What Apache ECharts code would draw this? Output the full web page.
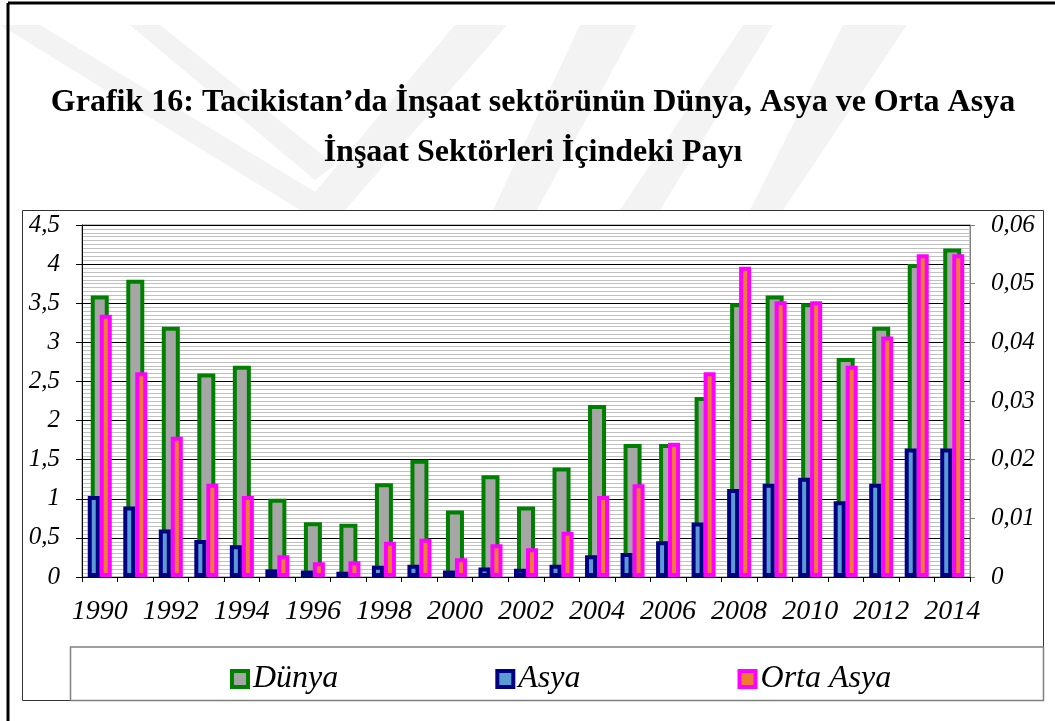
<!DOCTYPE html>
<html>
<head>
<meta charset="utf-8">
<script src="https://cdn.jsdelivr.net/npm/echarts@6/dist/echarts.min.js"></script>
<style>
  html, body { margin: 0; padding: 0; background: #fff; }
  #chart { width: 1055px; height: 721px; }
</style>
</head>
<body>
<div id="chart"></div>
<script>
// veriler
const years = ['1990', '1991', '1992', '1993', '1994', '1995', '1996', '1997', '1998', '1999',
  '2000', '2001', '2002', '2003', '2004', '2005', '2006', '2007', '2008', '2009',
  '2010', '2011', '2012', '2013', '2014']
// sol eksen (0 - 4,5)
const dunya = [3.6, 3.8, 3.2, 2.6, 2.7, 1.0, 0.7, 0.68, 1.2, 1.5, 0.85, 1.3, 0.9, 1.4, 2.2, 1.7, 1.7, 2.3, 3.5, 3.6, 3.5, 2.8, 3.2, 4.0, 4.2]
// sag eksen (0 - 0,06)
const asya = [0.0138, 0.0120, 0.0081, 0.0063, 0.0054, 0.0013, 0.0011, 0.0009, 0.0019, 0.0021, 0.0011, 0.0016, 0.0014, 0.0021, 0.0037, 0.0041, 0.0061, 0.0093, 0.0150, 0.0159, 0.0169, 0.0129, 0.0159, 0.0219, 0.0219]
const ortaAsya = [0.0447, 0.0349, 0.0239, 0.0159, 0.0138, 0.0037, 0.0025, 0.0027, 0.0060, 0.0065, 0.0032, 0.0056, 0.0049, 0.0077, 0.0138, 0.0158, 0.0229, 0.0349, 0.0529, 0.0470, 0.0470, 0.0360, 0.0410, 0.0550, 0.0550]

const leftAxis = { min: 0, max: 4.5, interval: 0.5 }
const rightAxis = { min: 0, max: 0.06, interval: 0.01 }
const seriesNames = ['Dünya', 'Asya', 'Orta Asya']
const titleText = 'Grafik 16: Tacikistan’da İnşaat sektörünün Dünya, Asya ve Orta Asya\nİnşaat Sektörleri İçindeki Payı'

const serif = "'Liberation Serif', 'Times New Roman', serif"

// arka plandaki soluk filigran seritleri
const watermark = [
  [[0, 25], [40, 25], [345, 210], [300, 210]],
  [[130, 25], [160, 25], [335, 165], [315, 180]],
  [[300, 210], [345, 210], [507, 25], [455, 25]],
  [[493, 210], [537, 210], [637, 25], [580, 25]],
  [[620, 210], [660, 210], [773, 25], [743, 25]],
  [[750, 210], [783, 210], [907, 25], [843, 25]]
]

function comma(v) {
  return String(+v.toFixed(3)).replace('.', ',')
}

function initEchart(el, option) {
  const myChart = echarts.init(el)
  myChart.setOption(option, true)
  return myChart
}

const getOption = function () {
  const graphics = watermark.map(function (pts) {
    return { type: 'polygon', shape: { points: pts }, style: { fill: '#f3f3f3' }, z: -20, silent: true }
  })
  graphics.push(
    // sayfa cercevesi
    { type: 'line', shape: { x1: 8, y1: 3, x2: 8, y2: 721 }, style: { stroke: '#000', lineWidth: 3 }, z: -10 },
    { type: 'line', shape: { x1: 8, y1: 3, x2: 1055, y2: 3 }, style: { stroke: '#000', lineWidth: 3 }, z: -10 },
    // grafik kutusu
    { type: 'rect', shape: { x: 22.5, y: 210.5, width: 1021, height: 490 }, style: { fill: '#fff', stroke: '#333', lineWidth: 1 }, z: -5 },
    // lejant kutusu
    { type: 'rect', shape: { x: 70.5, y: 647, width: 973, height: 53.5 }, style: { fill: 'none', stroke: '#7f7f7f', lineWidth: 1.5 }, z: -4 }
  )
  return {
    animation: false,
    backgroundColor: '#fff',
    title: {
      text: titleText,
      left: 528,
      top: 73,
      textAlign: 'center',
      textStyle: {
        fontFamily: serif,
        fontWeight: 'bold',
        fontSize: 32,
        lineHeight: 50,
        color: '#000'
      }
    },
    graphic: graphics,
    legend: {
      data: seriesNames,
      left: 230,
      top: 663,
      padding: 0,
      itemWidth: 16,
      itemHeight: 16,
      itemGap: 157,
      icon: 'rect',
      itemStyle: { borderWidth: 4 },
      textStyle: { fontFamily: serif, fontStyle: 'italic', fontSize: 32, color: '#000', padding: [0, 0, 0, 0] }
    },
    grid: {
      left: 82,
      right: 85,
      top: 225,
      bottom: 144,
      show: true,
      borderColor: '#808080',
      borderWidth: 1,
      backgroundColor: 'transparent'
    },
    xAxis: [
      {
        type: 'category',
        data: years,
        axisLine: { lineStyle: { color: '#000', width: 1 } },
        axisTick: { show: true, interval: 0, length: 5, lineStyle: { color: '#000' } },
        axisLabel: { interval: 1, margin: 21, fontFamily: serif, fontStyle: 'italic', fontSize: 28, color: '#000' }
      },
      {
        type: 'category',
        data: years,
        show: false
      }
    ],
    yAxis: [
      {
        type: 'value',
        min: leftAxis.min,
        max: leftAxis.max,
        interval: leftAxis.interval,
        axisLine: { show: true, lineStyle: { color: '#000' } },
        axisTick: { show: true, length: 6, lineStyle: { color: '#000' } },
        axisLabel: { margin: 22, fontFamily: serif, fontStyle: 'italic', fontSize: 25, color: '#000', formatter: comma },
        splitLine: { show: true, lineStyle: { color: '#000', width: 1 } },
        minorTick: { show: false, splitNumber: 10 },
        minorSplitLine: { show: true, lineStyle: { color: '#c0c0c0', width: 1 } }
      },
      {
        type: 'value',
        min: rightAxis.min,
        max: rightAxis.max,
        interval: rightAxis.interval,
        position: 'right',
        axisLine: { show: true, lineStyle: { color: '#808080' } },
        axisTick: { show: true, length: 5, lineStyle: { color: '#808080' } },
        axisLabel: { margin: 21, fontFamily: serif, fontStyle: 'italic', fontSize: 25, color: '#000', formatter: comma },
        splitLine: { show: false }
      }
    ],
    series: [
      {
        name: 'Dünya',
        type: 'bar',
        xAxisIndex: 0,
        yAxisIndex: 0,
        barWidth: 18,
        data: dunya,
        itemStyle: { color: '#a6a6a6', borderColor: '#008000', borderWidth: 4 }
      },
      {
        name: 'Asya',
        type: 'bar',
        xAxisIndex: 1,
        yAxisIndex: 1,
        barWidth: 12,
        barGap: '0%',
        data: asya,
        itemStyle: { color: '#5b9bd5', borderColor: '#000080', borderWidth: 4 }
      },
      {
        name: 'Orta Asya',
        type: 'bar',
        xAxisIndex: 1,
        yAxisIndex: 1,
        barWidth: 12,
        barGap: '0%',
        data: ortaAsya,
        itemStyle: { color: '#ed7d31', borderColor: '#ff00ff', borderWidth: 4 }
      }
    ]
  }
}

initEchart(document.getElementById('chart'), getOption())
</script>
</body>
</html>
